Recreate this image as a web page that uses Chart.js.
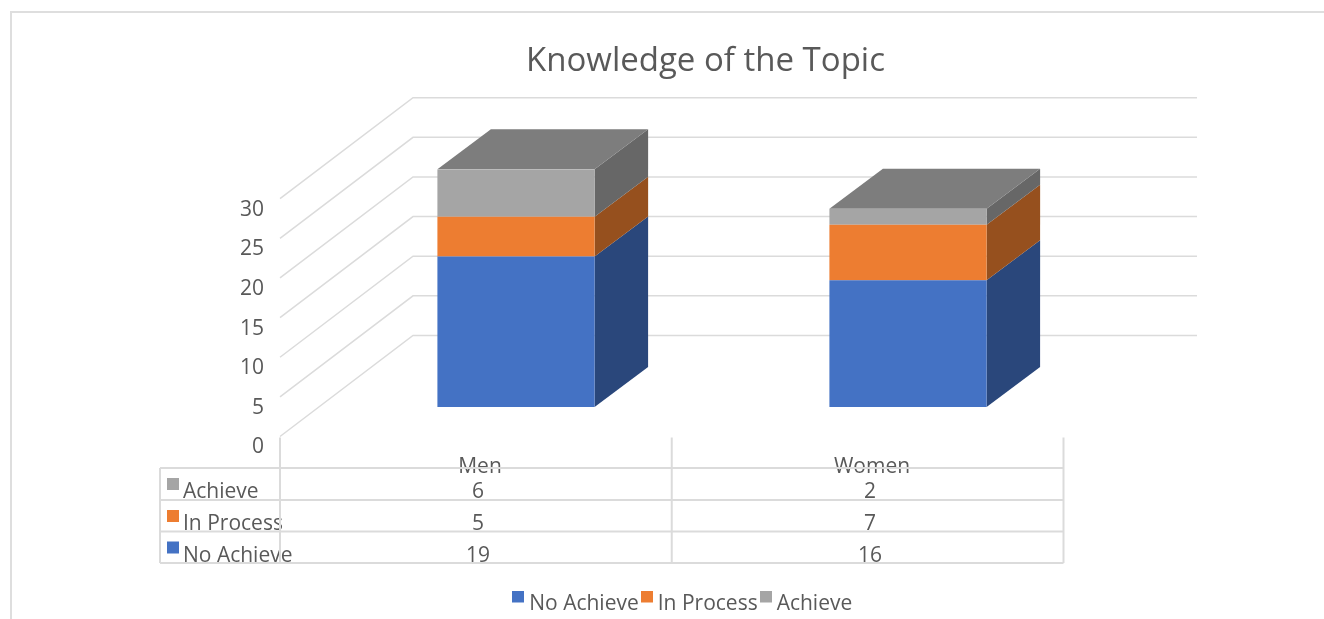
<!DOCTYPE html>
<html>
<head>
<meta charset="utf-8">
<title>Knowledge of the Topic</title>
<script src="https://cdn.jsdelivr.net/npm/chart.js@4/dist/chart.umd.min.js"></script>
<style>
    html, body { margin: 0; padding: 0; background: #fff; overflow: hidden; }
    .frame { position: absolute; left: 10px; top: 11px; right: 0; bottom: 0; border-top: 2px solid #dedede; border-left: 2px solid #dedede; }
    canvas { position: absolute; left: 0; top: 0; }
</style>
</head>
<body>
<div class="frame"></div>
<canvas id="topicChart" width="1324" height="619"></canvas>
<script>
let categories = ["Men", "Women"]
let seriesNames = ["No Achieve", "In Process", "Achieve"]
let noAchieve = [19, 16]
let inProcess = [5, 7]
let achieve = [6, 2]
let yTicks = [0, 5, 10, 15, 20, 25, 30]

let frontColors = ["#4472C4", "#ED7D31", "#A5A5A5"]
let sideColors = ["#2A477B", "#96501E", "#676767"]
let topColor = "#7D7D7D"
let lineColor = "#DBDBDB"
let textColor = "#595959"
let fontFamily = "'Open Sans', sans-serif"

// 3d look: walls go back by wallDepth, bars stand at barShift and are barDepth deep
let wallDepth = { x: 133, y: -101 }
let barShift = { x: 40, y: -29.5 }
let barDepth = { x: 53.5, y: -40 }
let rowLines = [468, 500, 531.5, 563]
let tableLeft = 160

// legend square sits higher than the text, so the mark is a tall canvas with the square on top
let legendMark = (color) => {
    let mark = document.createElement("canvas")
    mark.width = 12
    mark.height = 28
    let c = mark.getContext("2d")
    c.fillStyle = color
    c.fillRect(0, 0, 12, 12)
    return mark
}

let polygon = (ctx, points, color) => {
    ctx.fillStyle = color
    ctx.beginPath()
    points.forEach((p, i) => i == 0 ? ctx.moveTo(p[0], p[1]) : ctx.lineTo(p[0], p[1]))
    ctx.closePath()
    ctx.fill()
}

let topicPlugin = {
    id: "topic3d",
    afterLayout(chart) {
        chart.titleBlock.left = 305.5
        chart.titleBlock.right = 1105.5
        chart.legend.left = 185
        chart.legend.right = 1185
        chart.legend.top += 6
    },
    beforeDatasetsDraw(chart) {
        let ctx = chart.ctx
        let { left, right } = chart.chartArea
        let y = chart.scales.y
        //walls
        ctx.save()
        ctx.strokeStyle = lineColor
        ctx.lineWidth = 1.5
        yTicks.forEach(tick => {
            let py = y.getPixelForValue(tick)
            ctx.beginPath()
            ctx.moveTo(left, py)
            ctx.lineTo(left + wallDepth.x, py + wallDepth.y)
            ctx.lineTo(right + wallDepth.x, py + wallDepth.y)
            ctx.stroke()
        })
        ctx.restore()
        //bars stand further back than the axis plane
        ctx.save()
        ctx.translate(barShift.x, barShift.y)
        chart.data.datasets.forEach((set, s) => {
            chart.getDatasetMeta(s).data.forEach(bar => {
                let x2 = bar.x + bar.width / 2
                let d = barDepth
                polygon(ctx, [[x2, bar.y], [x2 + d.x, bar.y + d.y], [x2 + d.x, bar.base + d.y], [x2, bar.base]], sideColors[s])
                if (s == chart.data.datasets.length - 1) {
                    let x1 = bar.x - bar.width / 2
                    polygon(ctx, [[x1, bar.y], [x1 + d.x, bar.y + d.y], [x2 + d.x, bar.y + d.y], [x2, bar.y]], topColor)
                }
            })
        })
    },
    afterDatasetsDraw(chart) {
        chart.ctx.restore()
    },
    afterDraw(chart) {
        let ctx = chart.ctx
        let left = chart.chartArea.left
        let right = chart.chartArea.right - 0.5
        let x = chart.scales.x
        let mid = (left + right) / 2
        //data table
        ctx.save()
        ctx.font = "21px " + fontFamily
        ctx.fillStyle = textColor
        ctx.textBaseline = "middle"
        let rows = [2, 1, 0]
        rows.forEach((s, r) => {
            let rowY = rowLines[r] + 24.5
            ctx.fillStyle = frontColors[s]
            ctx.fillRect(167, rowLines[r] + 10, 12, 12)
            ctx.fillStyle = textColor
            ctx.textAlign = "left"
            ctx.fillText(seriesNames[s], 183, rowY)
            ctx.textAlign = "center"
            categories.forEach((cat, i) => {
                ctx.fillText(chart.data.datasets[s].data[i], x.getPixelForValue(i) + 2, rowY)
            })
        })
        ctx.strokeStyle = lineColor
        ctx.lineWidth = 2
        rowLines.forEach(ly => {
            ctx.beginPath()
            ctx.moveTo(tableLeft, ly)
            ctx.lineTo(right, ly)
            ctx.stroke()
        })
        ctx.beginPath()
        ctx.moveTo(tableLeft, rowLines[0])
        ctx.lineTo(tableLeft, rowLines[3])
        ctx.stroke()
        ;[left, mid, right].forEach(lx => {
            ctx.beginPath()
            ctx.moveTo(lx, 437.5)
            ctx.lineTo(lx, rowLines[3])
            ctx.stroke()
        })
        ctx.restore()
    }
}

new Chart("topicChart", {
    type: "bar",
    data: {
        labels: categories,
        datasets: [noAchieve, inProcess, achieve].map((values, i) => ({
            label: seriesNames[i],
            data: values,
            backgroundColor: frontColors[i],
            borderWidth: 0,
            barPercentage: 0.401,
            categoryPercentage: 1
        }))
    },
    options: {
        responsive: false,
        animation: false,
        layout: {
            autoPadding: false,
            padding: { left: 10, right: 260, top: 0, bottom: 0 }
        },
        scales: {
            x: {
                stacked: true,
                grid: { display: false },
                border: { display: false },
                ticks: {
                    color: textColor,
                    font: { family: fontFamily, size: 21 },
                    padding: 9.5,
                    labelOffset: 4
                },
                afterFit: scale => { scale.height = 144 }
            },
            y: {
                stacked: true,
                min: yTicks[0],
                max: yTicks[yTicks.length - 1],
                grid: { display: false },
                border: { display: false },
                ticks: {
                    stepSize: yTicks[1] - yTicks[0],
                    color: textColor,
                    font: { family: fontFamily, size: 21 },
                    padding: 8,
                    labelOffset: 11
                },
                afterFit: scale => { scale.width = 270 }
            }
        },
        plugins: {
            tooltip: { enabled: false },
            title: {
                display: true,
                text: "Knowledge of the Topic",
                color: textColor,
                font: { family: fontFamily, size: 33, weight: "normal", lineHeight: 1.2 },
                padding: { top: 42, bottom: 117.1 }
            },
            legend: {
                position: "bottom",
                labels: {
                    color: textColor,
                    font: { family: fontFamily, size: 21 },
                    usePointStyle: true,
                    boxWidth: 1,
                    padding: 7.5,
                    generateLabels: chart => Chart.defaults.plugins.legend.labels.generateLabels(chart).map((item, i) => {
                        item.pointStyle = legendMark(frontColors[i])
                        return item
                    })
                }
            }
        }
    },
    plugins: [topicPlugin]
})
</script>
</body>
</html>
